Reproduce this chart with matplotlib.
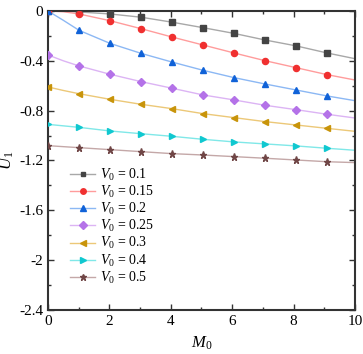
import matplotlib
matplotlib.use("Agg")
import matplotlib.pyplot as plt
from matplotlib.ticker import MultipleLocator

plt.rcParams['font.family'] = ['Liberation Serif', 'DejaVu Serif']
plt.rcParams['mathtext.fontset'] = 'custom'
plt.rcParams['mathtext.rm'] = 'Liberation Serif'
plt.rcParams['mathtext.it'] = 'Liberation Serif:italic'

# Marker positions (M0) and line positions
m0_markers = [0, 1.01, 2.02, 3.03, 4.04, 5.05, 6.06, 7.07, 8.08, 9.09]
m0_line = [0, 0.5, 1.01, 2.02, 3.03, 4.04, 5.05, 6.06, 7.07, 8.08, 9.09, 10]

labels = ['0.1', '0.15', '0.2', '0.25', '0.3', '0.4', '0.5']

u_v01 = [0.0, -0.002, -0.008, -0.024, -0.05, -0.09, -0.134, -0.18, -0.233, -0.28, -0.337, -0.383]
u_v015 = [0.0, -0.006, -0.024, -0.078, -0.142, -0.209, -0.273, -0.337, -0.399, -0.455, -0.511, -0.554]
u_v02 = [0.0, -0.075, -0.155, -0.26, -0.34, -0.41, -0.476, -0.535, -0.586, -0.634, -0.682, -0.72]
u_v025 = [-0.353, -0.4, -0.441, -0.508, -0.567, -0.62, -0.674, -0.714, -0.757, -0.792, -0.829, -0.859]
u_v03 = [-0.61, -0.638, -0.664, -0.709, -0.749, -0.784, -0.824, -0.856, -0.888, -0.915, -0.942, -0.966]
u_v04 = [-0.91, -0.922, -0.934, -0.963, -0.985, -1.006, -1.03, -1.051, -1.067, -1.083, -1.102, -1.118]
u_v05 = [-1.081, -1.089, -1.097, -1.113, -1.129, -1.145, -1.156, -1.169, -1.182, -1.196, -1.21, -1.217]

x_ticks = [0, 2, 4, 6, 8, 10]
x_ticklabels = ['0', '2', '4', '6', '8', '10']
y_ticks = [0, -0.4, -0.8, -1.2, -1.6, -2.0, -2.4]
y_ticklabels = ['0', '-0.4', '-0.8', '-1.2', '-1.6', '-2', '-2.4']

series = [u_v01, u_v015, u_v02, u_v025, u_v03, u_v04, u_v05]
line_colors = ['#a8a8a8', '#ff9c9c', '#8cb8f4', '#dcb4f4', '#ecc878', '#80e8e8', '#c4a8a8']
marker_colors = ['#444444', '#f03030', '#1062d8', '#b472e8', '#c8940a', '#10c8d0', '#704646']
markers = ['s', 'o', '^', 'D', '<', '>', '*']
msizes = [3.8, 4.4, 4.6, 4.0, 4.6, 4.6, 5.2]

fig = plt.figure(figsize=(3.63, 3.54), dpi=100)
ax = fig.add_axes([0.1322, 0.1243, 0.8457, 0.8447])

for vals, lc, mc, mk, ms, lab in zip(series, line_colors, marker_colors, markers, msizes, labels):
    ax.plot(m0_line, vals, color=lc, lw=1.0, zorder=2)
    mvals = [v for x, v in zip(m0_line, vals) if x in m0_markers]
    ax.plot(m0_markers, mvals, linestyle='none', marker=mk, ms=ms, color=mc,
            markeredgecolor=mc, zorder=3)
    ax.plot([], [], color=lc, lw=1.0, marker=mk, ms=ms * 0.9, markerfacecolor=mc,
            markeredgecolor=mc, label=r'$V_{\mathrm{0}}$ = ' + lab)

ax.set_xlim(0, 10)
ax.set_ylim(-2.4, 0)
ax.set_xticks(x_ticks)
ax.set_xticklabels(x_ticklabels)
ax.set_yticks(y_ticks)
ax.set_yticklabels(y_ticklabels)
ax.xaxis.set_minor_locator(MultipleLocator(1))
ax.yaxis.set_minor_locator(MultipleLocator(0.2))
ax.tick_params(which='both', direction='in', top=True, right=True, labelsize=11,
               color='#333333', width=1.0)
ax.tick_params(which='major', length=4)
ax.tick_params(which='minor', length=2.5)
for sp in ax.spines.values():
    sp.set_linewidth(1.5)
    sp.set_color('#333333')

ax.set_xlabel(r'$M_{\mathrm{0}}$', fontsize=12, labelpad=5)
ax.set_ylabel(r'$U_{\mathrm{1}}$', fontsize=12, labelpad=2)

leg = ax.legend(loc='lower left', bbox_to_anchor=(0.055, 0.062), frameon=False,
                fontsize=10, handlelength=1.8, handletextpad=0.35,
                labelspacing=0.08, borderaxespad=0)

fig.savefig('out.png', dpi=100)
